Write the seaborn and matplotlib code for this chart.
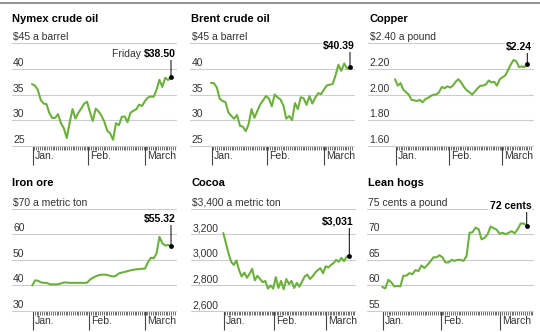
import numpy as np
import matplotlib
matplotlib.use("Agg")
import matplotlib.pyplot as plt
import matplotlib.transforms as mtrans
import seaborn as sns

# ---------------- data ----------------
trading_day = list(range(49))          # Dec 31 .. Mar 11 (trading days)
month_ticks = [0.2, 19.5, 39.0]
month_labels = ["Jan.", "Feb.", "March"]

nymex = [37.04, 36.76, 35.97, 33.97, 33.27, 33.16, 31.41, 30.44, 30.48, 31.20,
         29.42, 28.46, 26.55, 29.53, 32.19, 30.34, 31.45, 32.30, 33.22, 33.62,
         31.62, 29.88, 32.28, 31.72, 30.89, 29.69, 27.94, 27.45, 26.21, 29.44,
         29.04, 30.66, 30.77, 29.64, 31.48, 31.87, 32.15, 33.07, 32.78, 33.75,
         34.40, 34.66, 34.57, 35.92, 37.90, 36.50, 38.29, 37.84, 38.50]
brent = [37.28, 37.22, 36.42, 34.23, 33.75, 33.55, 31.55, 30.86, 30.31, 31.03,
         28.94, 28.76, 27.88, 29.25, 32.18, 30.50, 31.80, 33.10, 33.89, 34.74,
         34.24, 32.72, 35.04, 34.46, 34.06, 32.88, 30.32, 30.84, 30.06, 33.36,
         32.18, 34.50, 34.28, 33.01, 34.69, 33.27, 34.41, 35.29, 35.10, 35.97,
         36.81, 36.93, 37.07, 38.72, 40.84, 39.65, 41.07, 40.05, 40.39]
copper = [2.12, 2.07, 2.09, 2.04, 2.02, 2.00, 1.96, 1.955, 1.95, 1.96,
          1.94, 1.965, 1.975, 1.99, 2.00, 2.00, 2.02, 2.06, 2.05, 2.065,
          2.055, 2.07, 2.10, 2.12, 2.095, 2.06, 2.035, 2.02, 2.00, 2.025,
          2.05, 2.07, 2.07, 2.08, 2.11, 2.095, 2.10, 2.07, 2.12, 2.135,
          2.15, 2.19, 2.235, 2.27, 2.26, 2.215, 2.22, 2.215, 2.24]
iron_ore = [40.0, 42.0, 41.8, 41.2, 41.0, 41.0, 40.5, 40.4, 40.4, 40.5,
            40.8, 41.2, 41.1, 41.0, 41.0, 41.0, 41.0, 41.0, 41.0, 41.1,
            42.3, 43.0, 43.6, 44.0, 44.2, 44.2, 44.1, 43.7, 43.5, 43.8,
            44.7, 45.0, 45.3, 45.6, 45.9, 46.1, 46.3, 46.4, 46.5, 46.6,
            49.0, 50.8, 50.6, 52.5, 59.0, 56.5, 55.6, 55.8, 55.32]
cocoa = [3210, 3130, 3050, 2985, 2960, 2995, 2920, 2870, 2900, 2860,
         2890, 2930, 2840, 2875, 2850, 2825, 2835, 2775, 2800, 2775,
         2865, 2780, 2835, 2770, 2850, 2810, 2835, 2780, 2820, 2790,
         2830, 2870, 2885, 2850, 2870, 2900, 2920, 2935, 2895, 2950,
         2940, 2960, 2975, 3000, 2985, 3015, 2990, 3025, 3031]
lean_hogs = [59.7, 59.4, 61.1, 60.6, 59.8, 59.9, 59.8, 61.9, 61.9, 62.4,
             62.2, 63.0, 62.8, 63.9, 63.4, 64.0, 64.7, 65.5, 65.5, 65.9,
             65.5, 64.5, 64.5, 65.0, 64.8, 65.0, 65.0, 64.8, 65.7, 70.3,
             70.4, 71.3, 71.0, 69.0, 69.3, 70.0, 71.5, 71.2, 70.9, 70.1,
             70.3, 70.0, 70.3, 70.6, 70.2, 71.0, 72.1, 72.1, 71.7]

titles = ["Nymex crude oil", "Brent crude oil", "Copper",
          "Iron ore", "Cocoa", "Lean hogs"]
series = [nymex, brent, copper, iron_ore, cocoa, lean_hogs]
y_ticks = [[25, 30, 35, 40, 45], [25, 30, 35, 40, 45],
           [1.60, 1.80, 2.00, 2.20, 2.40], [30, 40, 50, 60, 70],
           [2600, 2800, 3000, 3200, 3400], [55, 60, 65, 70, 75]]
y_labels = [["25", "30", "35", "40", "$45 a barrel"],
            ["25", "30", "35", "40", "$45 a barrel"],
            ["1.60", "1.80", "2.00", "2.20", "$2.40 a pound"],
            ["30", "40", "50", "60", "$70 a metric ton"],
            ["2,600", "2,800", "3,000", "3,200", "$3,400 a metric ton"],
            ["55", "60", "65", "70", "75 cents a pound"]]
end_labels = ["$38.50", "$40.39", "$2.24", "$55.32", "$3,031", "72 cents"]
end_prefix = ["Friday ", "", "", "", "", ""]

# ---------------- layout (pixels) ----------------
W, H = 540, 332
# left, right, top, bottom of plotting area; x pixel of first/last point
geom = [(11.5, 176, 43.3, 146, 32.0, 171.0),
        (190, 353.5, 43.3, 146, 211.0, 350.0),
        (368, 532.5, 43.3, 146, 395.0, 527.3),
        (11.5, 176, 208.7, 311, 32.3, 171.0),
        (191, 355, 208.7, 311, 223.3, 349.3),
        (367, 532.5, 208.7, 311, 382.3, 526.7)]
title_x = [12, 191, 369, 12, 191, 368]
title_base = [21.7, 21.7, 21.7, 186, 186, 186]
label_dy = [23, 21, 17, 27, 34, 20]

GREEN = "#6cb03e"
GRID = "#cccccc"

sns.set_style("white")
plt.rcParams["font.family"] = ["Liberation Sans", "DejaVu Sans"]

fig = plt.figure(figsize=(W / 100, H / 100), dpi=100)
fig.patch.set_facecolor("white")

# top rule
fig.add_artist(plt.Line2D([0, 1], [1 - 2.5 / H, 1 - 2.5 / H],
                          transform=fig.transFigure, color="#8a8a8a", lw=1.3))

def px(dx, dy):
    return mtrans.ScaledTranslation(dx / 100, dy / 100, fig.dpi_scale_trans)

for i in range(6):
    l, r, t, b, xs, xe = geom[i]
    ax = fig.add_axes([l / W, 1 - b / H, (r - l) / W, (b - t) / H])
    ax.set_facecolor("none")
    n = len(trading_day) - 1
    s = (xe - xs) / n
    xmin = -(xs - l) / s
    xmax = n + (r - xe) / s
    ax.set_xlim(xmin, xmax)
    yt = y_ticks[i]
    ax.set_ylim(yt[0], yt[-1])

    for sp in ax.spines.values():
        sp.set_visible(False)

    ax.set_yticks(yt)
    ax.set_yticklabels([])
    ax.yaxis.grid(True, color=GRID, lw=0.8)
    for ln in ax.get_ygridlines():
        ln.set_clip_on(False)
    ax.tick_params(axis="y", length=0)

    # y labels sitting on the gridlines
    ytr = mtrans.blended_transform_factory(ax.transAxes, ax.transData)
    for v, lab in zip(yt, y_labels[i]):
        ax.text(0, v, lab, transform=ytr + px(1.5, 3), ha="left",
                va="baseline", fontsize=7.5, color="#333333")

    # x ticks
    ax.set_xticks(month_ticks)
    ax.set_xticklabels([])
    minor = np.arange(month_ticks[0], xmax, 19.5 / 31)
    ax.set_xticks(minor, minor=True)
    ax.tick_params(axis="x", which="major", length=14, width=0.8,
                   color="#444444", direction="out", bottom=True)
    ax.tick_params(axis="x", which="minor", length=3, width=0.6,
                   color="#555555", direction="out", bottom=True)
    xtr = mtrans.blended_transform_factory(ax.transData, ax.transAxes)
    for m, lab in zip(month_ticks, month_labels):
        ax.text(m, 0, lab, transform=xtr + px(2, -13.5), ha="left",
                va="baseline", fontsize=7.5, color="#333333")

    # the line
    sns.lineplot(x=trading_day, y=series[i], ax=ax, color=GREEN,
                 linewidth=1.5, legend=False)
    ax.set_xlabel("")
    ax.set_ylabel("")

    # end point marker + callout
    x_end, y_end = trading_day[-1], series[i][-1]
    sns.scatterplot(x=[x_end], y=[y_end], ax=ax, color="black", s=12,
                    edgecolor="black", linewidth=0, zorder=5, legend=False)
    dy = label_dy[i]
    ax.annotate("", xy=(x_end, y_end), xytext=(0, dy - 5.5),
                textcoords="offset pixels",
                arrowprops=dict(arrowstyle="-", color="black", lw=0.7,
                                shrinkA=0, shrinkB=0), annotation_clip=False)
    bold = ax.annotate(end_labels[i], xy=(x_end, y_end), xytext=(4.5, dy),
                       textcoords="offset pixels", ha="right", va="center",
                       fontsize=7.5, fontweight="bold", color="black",
                       annotation_clip=False,
                       bbox=dict(fc="white", ec="none", pad=0.8))
    if end_prefix[i]:
        ax.annotate(end_prefix[i], xy=(0, 0), xycoords=bold, ha="right",
                    va="bottom", fontsize=7.5, color="#333333",
                    annotation_clip=False)

    # title
    fig.text(title_x[i] / W, 1 - title_base[i] / H, titles[i],
             fontsize=8, fontweight="bold", color="black", va="baseline",
             ha="left")

fig.savefig("out.png", dpi=100, facecolor="white")
